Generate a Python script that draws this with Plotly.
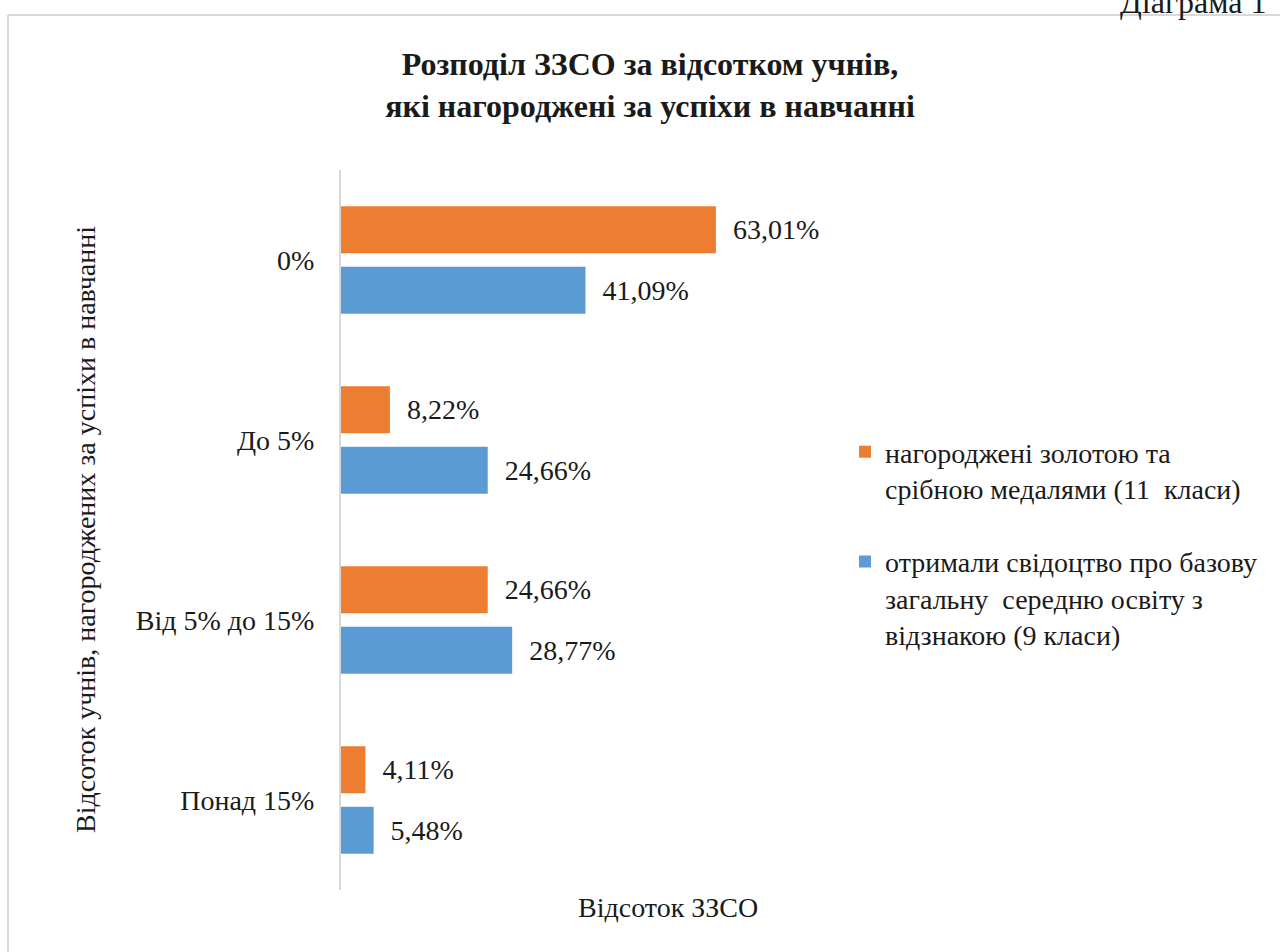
import plotly.graph_objects as go

categories = ["0%", "До 5%", "Від 5% до 15%", "Понад 15%"]
medals = [63.01, 8.22, 24.66, 4.11]
certificates = [41.09, 24.66, 28.77, 5.48]

name_medals = "нагороджені золотою та<br>срібною медалями (11  класи)"
name_cert = "отримали свідоцтво про базову<br>загальну  середню освіту з<br>відзнакою (9 класи)"

FONT = "Liberation Serif"
TXT = "#1a1a1a"
FS = 28

W, H = 1280, 952
# plot area in page pixels
L, R, T, B = 341, 995, 170, 890


def px_x(p):
    return (p - L) / (R - L)


def px_y(p):
    return (B - p) / (B - T)


fig = go.Figure()
fig.add_trace(go.Bar(
    y=categories, x=medals, orientation="h", name=name_medals,
    marker=dict(color="#ED7D31", line=dict(width=0)),
    texttemplate="\u2002%{x:.2f}%", textposition="outside",
    textfont=dict(family=FONT, size=FS, color=TXT),
    cliponaxis=False, legendgroup="a",
))
fig.add_trace(go.Bar(
    y=categories, x=certificates, orientation="h", name=name_cert,
    marker=dict(color="#5B9BD5", line=dict(width=0)),
    texttemplate="\u2002%{x:.2f}%", textposition="outside",
    textfont=dict(family=FONT, size=FS, color=TXT),
    cliponaxis=False, legendgroup="b",
))

fig.update_layout(
    width=W, height=H,
    margin=dict(l=L, r=W - R, t=T, b=H - B, autoexpand=False),
    paper_bgcolor="white", plot_bgcolor="white",
    separators=",.",
    barmode="group", bargap=0.33, bargroupgap=0.22,
    font=dict(family=FONT, size=FS, color=TXT),
    title=dict(
        text="<b>Розподіл ЗЗСО за відсотком учнів,<br>які нагороджені за успіхи в навчанні</b>",
        x=650 / W, xanchor="center", y=1 - 75 / H, yanchor="middle",
        font=dict(family=FONT, size=32, color=TXT),
    ),
    xaxis=dict(range=[0, (R - L) / 5.95], showticklabels=False, showgrid=False,
               zeroline=False, showline=False, ticks=""),
    yaxis=dict(autorange="reversed", showgrid=False, zeroline=False,
               showline=True, linecolor="#d9d9d9", linewidth=2,
               ticks="outside", ticklen=19, tickcolor="rgba(0,0,0,0)",
               tickfont=dict(family=FONT, size=FS, color=TXT)),
    legend=dict(x=px_x(845), xanchor="left", y=px_y(427), yanchor="top",
                valign="top", tracegroupgap=34,
                font=dict(family=FONT, size=FS, color=TXT),
                bgcolor="rgba(0,0,0,0)"),
    showlegend=True,
)

fig.add_annotation(text="Відсоток ЗЗСО", xref="paper", yref="paper",
                   x=px_x(668), y=px_y(908), xanchor="center", yanchor="middle",
                   showarrow=False, font=dict(family=FONT, size=FS, color=TXT))
fig.add_annotation(text="Відсоток учнів, нагороджених за успіхи в навчанні",
                   xref="paper", yref="paper", textangle=-90,
                   x=px_x(85), y=px_y(530), xanchor="center", yanchor="middle",
                   showarrow=False, font=dict(family=FONT, size=FS, color=TXT))
# caption above the frame, cut off by the top of the page as in the source
fig.add_annotation(text="Діаграма 1", xref="paper", yref="paper",
                   x=px_x(1118), y=px_y(2), xanchor="left", yanchor="middle",
                   showarrow=False, font=dict(family=FONT, size=32, color=TXT))

# chart frame (top and left edges visible, rest runs off the page)
fig.add_shape(type="line", xref="paper", yref="paper",
              x0=px_x(8), x1=px_x(1300), y0=px_y(15), y1=px_y(15),
              line=dict(color="#d9d9d9", width=2))
fig.add_shape(type="line", xref="paper", yref="paper",
              x0=px_x(8), x1=px_x(8), y0=px_y(15), y1=px_y(970),
              line=dict(color="#d9d9d9", width=2))

# drop the default page margin so the figure sits in the corner
fig.write_html("out.html", config={"displayModeBar": False},
               post_script="document.body.style.margin='0';")
